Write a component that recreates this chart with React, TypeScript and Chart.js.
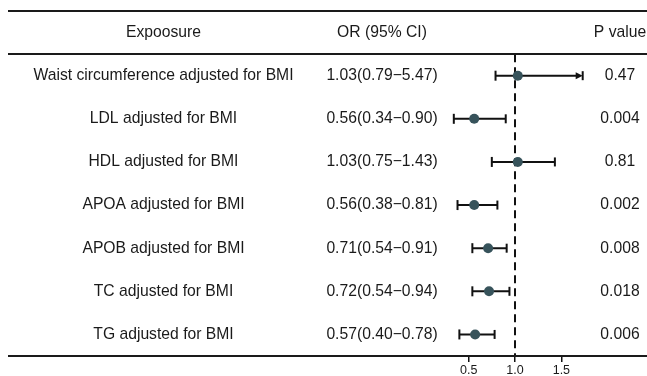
import React, { useEffect, useRef } from "react";
import { Chart, registerables } from "chart.js";

Chart.register(...registerables);

const exposures = [
  "Waist circumference adjusted for BMI",
  "LDL adjusted for BMI",
  "HDL adjusted for BMI",
  "APOA adjusted for BMI",
  "APOB adjusted for BMI",
  "TC adjusted for BMI",
  "TG adjusted for BMI",
];
const orValues = [1.03, 0.56, 1.03, 0.56, 0.71, 0.72, 0.57];
const ciLower = [0.79, 0.34, 0.75, 0.38, 0.54, 0.54, 0.4];
const ciUpper = [5.47, 0.9, 1.43, 0.81, 0.91, 0.94, 0.78];
const pValues = ["0.47", "0.004", "0.81", "0.002", "0.008", "0.018", "0.006"];
const headers = ["Expoosure", "OR (95% CI)", "P value"];
const xTicks = [0.5, 1.0, 1.5];
const xMin = 0.3;
const xMax = 1.73;
const refValue = 1;

const FONT = '"Liberation Sans", Arial, Helvetica, sans-serif';
const TEXT_SIZE = 15.7;
const POINT_COLOR = "#37535B";
const COL_X = [163.5, 382, 620];

const orText = orValues.map(
  (v, i) => `${v.toFixed(2)}(${ciLower[i].toFixed(2)}\u2212${ciUpper[i].toFixed(2)})`
);

const forestPlugin = {
  id: "forestTable",
  afterDatasetDraw(chart: any, args: any) {
    if (args.index !== 1) return;
    const { ctx, scales } = chart;
    const xs = scales.x;
    const ys = scales.y;
    ctx.save();
    ctx.strokeStyle = "#111";
    ctx.fillStyle = "#111";
    ctx.lineWidth = 2;
    const cap = 5;
    for (let i = 0; i < orValues.length; i++) {
      const y = ys.getPixelForValue(i);
      const lo = Math.max(ciLower[i], xMin);
      const clipped = ciUpper[i] > xMax;
      const hi = Math.min(ciUpper[i], xMax);
      const x0 = xs.getPixelForValue(lo);
      const x1 = xs.getPixelForValue(hi);
      ctx.beginPath();
      ctx.moveTo(x0, y);
      ctx.lineTo(clipped ? x1 - 4 : x1, y);
      ctx.stroke();
      ctx.beginPath();
      ctx.moveTo(x0, y - cap);
      ctx.lineTo(x0, y + cap);
      ctx.stroke();
      ctx.beginPath();
      ctx.moveTo(x1, y - cap + 0.5);
      ctx.lineTo(x1, y + cap - 0.5);
      ctx.stroke();
      if (clipped) {
        ctx.beginPath();
        ctx.moveTo(x1, y);
        ctx.lineTo(x1 - 7, y - 3.5);
        ctx.lineTo(x1 - 7, y + 3.5);
        ctx.closePath();
        ctx.fill();
      }
    }
    ctx.restore();
  },
  afterDraw(chart: any) {
    const { ctx, scales } = chart;
    const ys = scales.y;
    ctx.save();
    // table rules
    ctx.strokeStyle = "#1a1a1a";
    ctx.lineWidth = 2;
    [-1.5, -0.5, exposures.length - 0.5].forEach((v) => {
      const y = Math.round(ys.getPixelForValue(v));
      ctx.beginPath();
      ctx.moveTo(8, y);
      ctx.lineTo(chart.width, y);
      ctx.stroke();
    });
    ctx.fillStyle = "#1a1a1a";
    ctx.font = `${TEXT_SIZE}px ${FONT}`;
    ctx.textAlign = "center";
    ctx.textBaseline = "middle";
    const hy = ys.getPixelForValue(-1);
    headers.forEach((h, j) => ctx.fillText(h, COL_X[j], hy));
    for (let i = 0; i < exposures.length; i++) {
      const y = ys.getPixelForValue(i);
      ctx.fillText(exposures[i], COL_X[0], y);
      ctx.fillText(orText[i], COL_X[1], y);
      ctx.fillText(pValues[i], COL_X[2], y);
    }
    ctx.restore();
  },
};

export default function App() {
  const ref = useRef<HTMLCanvasElement | null>(null);
  useEffect(() => {
    if (!ref.current) return;
    const chart = new Chart(ref.current, {
      type: "scatter",
      data: {
        datasets: [
          {
            label: "OR",
            data: orValues.map((v, i) => ({ x: v, y: i })),
            pointRadius: 5,
            pointHoverRadius: 5,
            backgroundColor: POINT_COLOR,
            borderColor: POINT_COLOR,
            borderWidth: 0,
          },
          {
            label: "ref",
            data: [
              { x: refValue, y: -0.5 },
              { x: refValue, y: exposures.length - 0.5 },
            ],
            showLine: true,
            borderColor: "#111",
            borderWidth: 2,
            borderDash: [8, 5],
            pointRadius: 0,
          },
        ],
      },
      options: {
        animation: false,
        responsive: false,
        layout: { padding: { left: 450.1, right: 64.3, top: 11, bottom: 0 } },
        plugins: { legend: { display: false }, tooltip: { enabled: false } },
        scales: {
          x: {
            type: "linear",
            min: xMin,
            max: xMax,
            afterBuildTicks: (s: any) => {
              s.ticks = xTicks.map((v) => ({ value: v }));
            },
            afterFit: (s: any) => {
              s.height = 20;
            },
            border: { display: false },
            grid: {
              drawOnChartArea: false,
              drawTicks: true,
              tickLength: 6,
              color: "#111",
              lineWidth: 1.5,
            },
            ticks: {
              padding: 1,
              autoSkip: false,
              maxRotation: 0,
              color: "#1a1a1a",
              font: { size: 12.5, family: FONT },
              callback: (v: any) => Number(v).toFixed(1),
            },
          },
          y: {
            type: "linear",
            display: false,
            min: -1.5,
            max: exposures.length - 0.5,
            reverse: true,
          },
        },
      },
      plugins: [forestPlugin],
    });
    return () => chart.destroy();
  }, []);
  return (
    <div style={{ position: "fixed", left: 0, top: 0, width: 647, height: 376, background: "#fff" }}>
      <canvas ref={ref} width={647} height={376} style={{ display: "block" }} />
    </div>
  );
}
